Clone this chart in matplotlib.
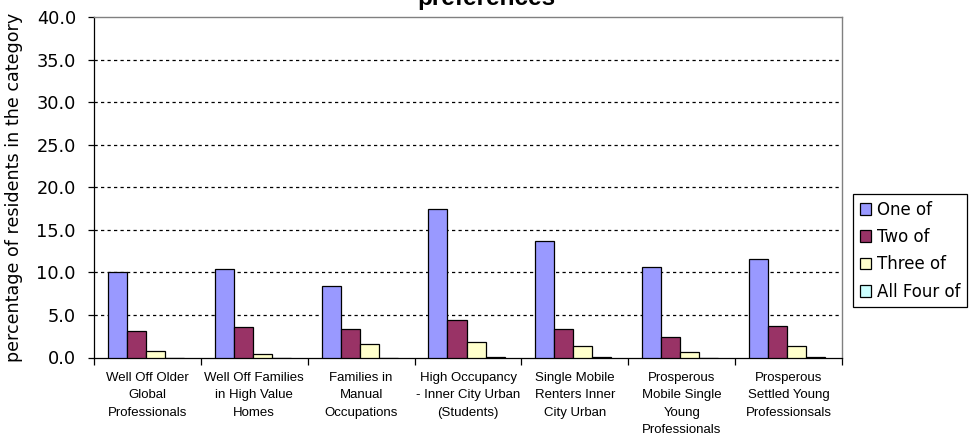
import matplotlib
matplotlib.use("Agg")
import matplotlib.pyplot as plt
import numpy as np
from matplotlib.ticker import FixedLocator, FormatStrFormatter

categories = [
    "Well Off Older\nGlobal\nProfessionals",
    "Well Off Families\nin High Value\nHomes",
    "Families in\nManual\nOccupations",
    "High Occupancy\n- Inner City Urban\n(Students)",
    "Single Mobile\nRenters Inner\nCity Urban",
    "Prosperous\nMobile Single\nYoung\nProfessionals",
    "Prosperous\nSettled Young\nProfessionsals",
]
series_names = ["One of", "Two of", "Three of", "All Four of"]
one_of = [10.0, 10.4, 8.4, 17.4, 13.7, 10.6, 11.6]
two_of = [3.1, 3.6, 3.4, 4.4, 3.4, 2.4, 3.7]
three_of = [0.8, 0.4, 1.6, 1.8, 1.4, 0.7, 1.4]
all_four_of = [0.0, 0.0, 0.0, 0.1, 0.1, 0.0, 0.1]
y_ticks = [0, 5, 10, 15, 20, 25, 30, 35, 40]

colors = ["#9999FF", "#993366", "#FFFFCC", "#CCFFFF"]

W, H = 969, 437
fig = plt.figure(figsize=(W / 100, H / 100), dpi=100)
fig.patch.set_facecolor("white")

left, right, top, bottom = 94, 842, 17, 357.5
ax = fig.add_axes([left / W, 1 - bottom / H, (right - left) / W, (bottom - top) / H])

x = np.arange(len(categories))
bw = 0.178
start = -0.37
handles = []
for k, (vals, c) in enumerate(zip([one_of, two_of, three_of, all_four_of], colors)):
    b = ax.bar(x + start + bw * (k + 0.5), vals, width=bw, color=c,
               edgecolor="black", linewidth=0.9, zorder=3, label=series_names[k])
    handles.append(b)

ax.set_xlim(-0.5, len(categories) - 0.5)
ax.set_ylim(0, 40)

# horizontal dashed gridlines
for yv in y_ticks[1:-1]:
    ax.axhline(yv, color="black", linewidth=0.9, linestyle=(0, (2.6, 2.6)), zorder=1)

ax.yaxis.set_major_locator(FixedLocator(y_ticks))
ax.yaxis.set_major_formatter(FormatStrFormatter("%.1f"))
ax.tick_params(axis="y", direction="out", length=4, width=0.9, pad=9,
               labelsize=12.8, colors="black")
for t in ax.get_yticklabels():
    t.set_family("DejaVu Sans")

ax.set_xticks(x)
ax.set_xticklabels(categories, fontsize=9.5, family="Liberation Sans",
                   linespacing=1.6, va="top")
ax.tick_params(axis="x", which="major", length=0, pad=10.3)
ax.set_xticks(np.arange(-0.5, len(categories)), minor=True)
ax.tick_params(axis="x", which="minor", direction="out", length=5, width=0.9)

for s in ["left", "bottom"]:
    ax.spines[s].set_color("black")
    ax.spines[s].set_linewidth(0.9)
for s in ["top", "right"]:
    ax.spines[s].set_color("#808080")
    ax.spines[s].set_linewidth(1.0)

ax.set_ylabel("percentage of residents in the category", fontsize=12.6,
              family="DejaVu Sans")
ax.yaxis.set_label_coords(-(left - 23) / (right - left), 0.5)

fig.text(486 / W, 1 - 4.5 / H, "preferences", ha="center", va="baseline",
         fontsize=17.5, fontweight="bold", family="Liberation Sans")

leg = fig.legend(handles=handles, labels=series_names, loc="upper left",
                 bbox_to_anchor=(853 / W, 1 - 194 / H), prop={"family": "DejaVu Sans", "size": 12},
                 frameon=True, fancybox=False, shadow=False, framealpha=1,
                 borderpad=0.4, labelspacing=0.56, handlelength=0.7, handleheight=0.7,
                 handletextpad=0.35, borderaxespad=0)
leg.get_frame().set_edgecolor("black")
leg.get_frame().set_linewidth(0.9)

fig.savefig("out.png", dpi=100)
